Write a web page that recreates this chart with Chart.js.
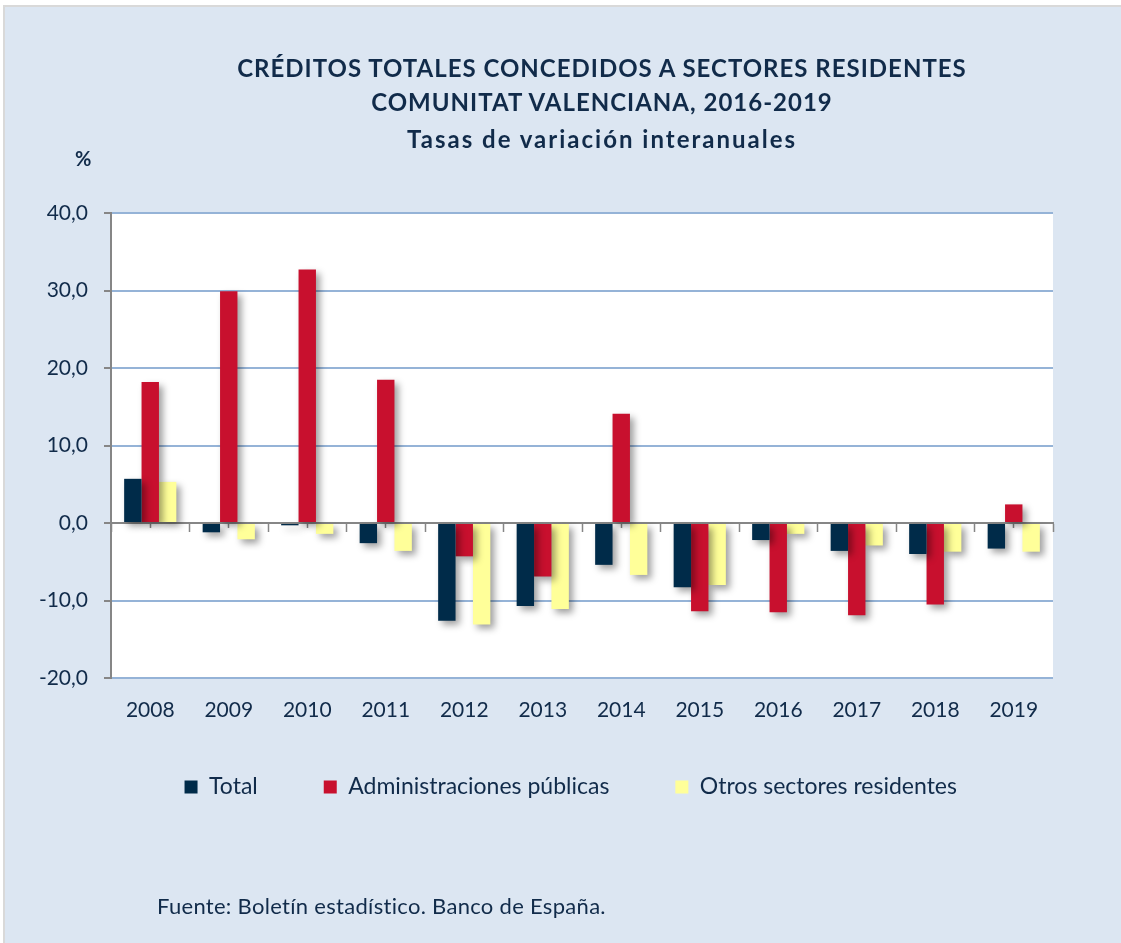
<!DOCTYPE html>
<html>
<head>
<meta charset="utf-8">
<script src="https://cdn.jsdelivr.net/npm/chart.js@4"></script>
<style>
  body { margin: 0; background: #fff; }
  #panel {
    position: absolute; left: 3px; top: 5px; width: 1116px; height: 938px;
    background: #dce6f2; border-left: 2px solid #d9d9d9; border-top: 2px solid #d9d9d9;
  }
  #chart { position: absolute; left: 0; top: 0; }
  .txt { position: absolute; color: #112b4a; font-family: Lato, sans-serif; white-space: nowrap; }
  .title { left: 0; width: 1204px; text-align: center; font-weight: bold; font-size: 24px; line-height: 1; }
</style>
</head>
<body>
<div id="panel"></div>
<canvas id="chart" width="1121" height="943"></canvas>
<div class="txt title" style="top:56px; letter-spacing:1px">CRÉDITOS TOTALES CONCEDIDOS A SECTORES RESIDENTES</div>
<div class="txt title" style="top:90px; letter-spacing:1px">COMUNITAT VALENCIANA, 2016-2019</div>
<div class="txt title" style="top:127px; letter-spacing:2px">Tasas de variación interanuales</div>
<div class="txt" style="left:75px; top:146px; font-size:20px; font-weight:bold">%</div>
<div class="txt" style="left:157px; top:892px; font-size:22px; letter-spacing:0.3px">Fuente: Boletín estadístico. Banco de España.</div>
<script>
const years = ['2008', '2009', '2010', '2011', '2012', '2013', '2014', '2015', '2016', '2017', '2018', '2019'];
const total = [5.7, -1.2, -0.3, -2.6, -12.6, -10.7, -5.4, -8.3, -2.2, -3.6, -4.0, -3.3];
const adminPublicas = [18.2, 29.9, 32.7, 18.5, -4.3, -6.9, 14.1, -11.4, -11.5, -11.9, -10.5, 2.4];
const otrosSectores = [5.3, -2.1, -1.4, -3.6, -13.1, -11.1, -6.7, -8.0, -1.4, -2.9, -3.7, -3.7];
const seriesNames = ['Total', 'Administraciones públicas', 'Otros sectores residentes'];
const yMin = -20, yMax = 40, yStep = 10;

const navy = '#112b4a';
const axisGrey = '#868686';

// fondo blanco del area de trazado
const plotBg = {
    id: 'plotBg',
    beforeDraw(chart) {
        const {ctx, chartArea: a} = chart;
        ctx.save();
        ctx.fillStyle = '#ffffff';
        ctx.fillRect(a.left, a.top, a.right - a.left, a.bottom - a.top);
        ctx.restore();
    }
};

// las etiquetas de los ejes no se recortan a la caja del eje
const noLabelClip = {
    id: 'noLabelClip',
    afterLayout(chart) {
        chart.scales.y.left = 0;
        chart.scales.x.bottom = chart.height;
    }
};

// sombra de las barras
const barShadow = {
    id: 'barShadow',
    beforeDatasetDraw(chart) {
        const ctx = chart.ctx;
        ctx.save();
        ctx.shadowColor = 'rgba(0,0,0,0.38)';
        ctx.shadowBlur = 7;
        ctx.shadowOffsetX = 4;
        ctx.shadowOffsetY = 4;
    },
    afterDatasetDraw(chart) {
        chart.ctx.restore();
    }
};

new Chart(document.querySelector('#chart'), {
    type: 'bar',
    data: {
        labels: years,
        datasets: [
            { label: seriesNames[0], data: total, backgroundColor: '#002b49' },
            { label: seriesNames[1], data: adminPublicas, backgroundColor: '#c8102e' },
            { label: seriesNames[2], data: otrosSectores, backgroundColor: '#ffff99' },
        ]
    },
    options: {
        responsive: false,
        devicePixelRatio: 1,
        animation: false,
        layout: { padding: { left: 88.5, right: 68, top: 213, bottom: 134.5 } },
        datasets: { bar: { categoryPercentage: 0.665, barPercentage: 1.0, borderWidth: 0 } },
        plugins: {
            title: { display: false },
            tooltip: { enabled: false },
            legend: {
                position: 'bottom',
                labels: {
                    boxWidth: 13,
                    boxHeight: 13,
                    padding: 66,
                    color: navy,
                    font: { family: 'Lato', size: 23 }
                }
            }
        },
        scales: {
            x: {
                type: 'category',
                position: 'bottom',
                grid: { display: false, drawTicks: false },
                border: { display: false },
                ticks: { color: navy, padding: 20, font: { family: 'Lato', size: 21 } },
                afterFit(scale) { scale.height = 31.5; }
            },
            xEdges: {
                type: 'category',
                labels: years,
                position: { y: 0 },
                offset: true,
                grid: { offset: true, drawOnChartArea: false, drawTicks: true, tickLength: 8, tickColor: axisGrey, tickWidth: 1.5 },
                border: { display: true, color: axisGrey, width: 2 },
                ticks: { display: false }
            },
            xMid: {
                type: 'category',
                labels: years,
                position: { y: 0 },
                offset: true,
                grid: { offset: false, drawOnChartArea: false, drawTicks: true, tickLength: 5, tickColor: axisGrey, tickWidth: 1.5 },
                border: { display: false },
                ticks: { display: false }
            },
            y: {
                min: yMin,
                max: yMax,
                ticks: {
                    stepSize: yStep,
                    color: navy,
                    padding: 16,
                    font: { family: 'Lato', size: 21 },
                    callback: v => v.toFixed(1).replace('.', ',')
                },
                grid: {
                    color: ctx => ctx.tick && ctx.tick.value === 0 ? 'rgba(0,0,0,0)' : '#95b3d7',
                    lineWidth: 2,
                    tickColor: axisGrey,
                    tickLength: 7
                },
                border: { display: true, color: axisGrey, width: 2 },
                afterFit(scale) { scale.width = 22.5; }
            }
        }
    },
    plugins: [plotBg, noLabelClip, barShadow]
});
</script>
</body>
</html>
